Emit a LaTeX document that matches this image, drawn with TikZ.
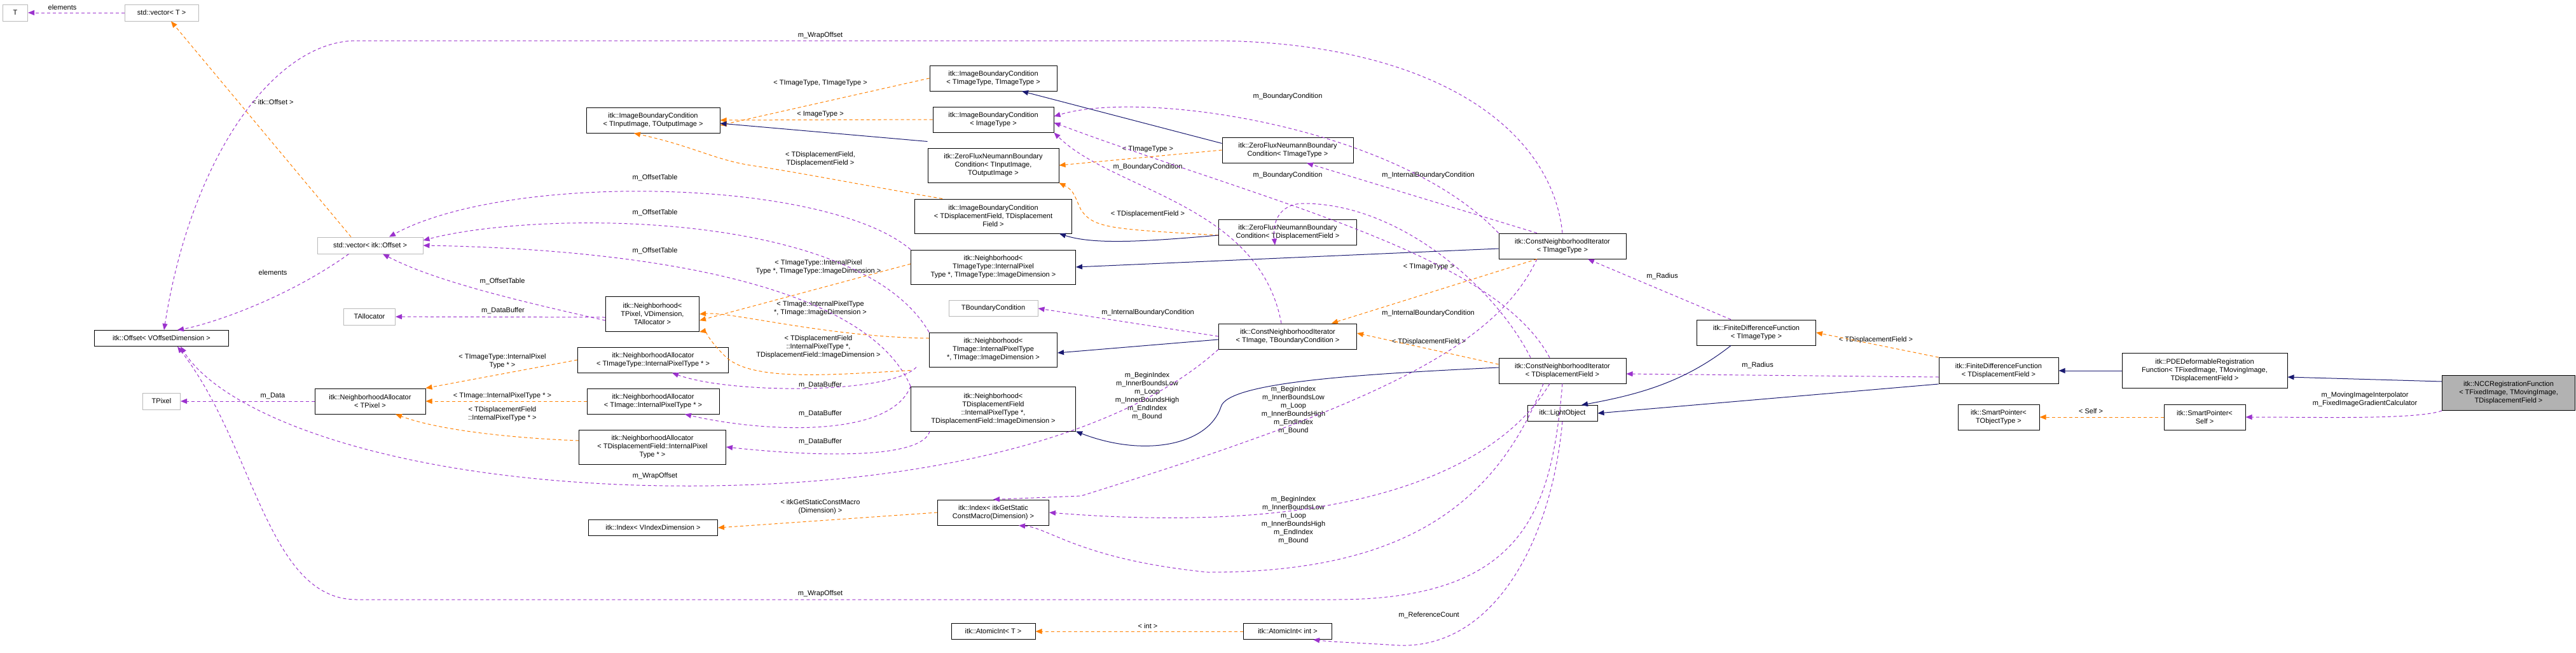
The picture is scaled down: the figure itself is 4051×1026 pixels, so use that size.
\documentclass[tikz,border=0pt]{standalone}
\usepackage{fontspec}
\setmainfont{Liberation Sans}
\usetikzlibrary{arrows.meta}
\begin{document}
\begin{tikzpicture}[x=1pt,y=-1pt,
  font=\fontsize{11}{13}\selectfont,
  box/.style={draw=black,line width=1pt,fill=white,inner sep=1pt,align=center},
  gbox/.style={box,draw=gray!55},
  sel/.style={box,fill=gray!60},
  lab/.style={inner sep=0pt,align=center},
  use/.style={draw={rgb,255:red,155;green,50;blue,205},dashed,line width=1pt,dash pattern=on 5pt off 4pt,-{Triangle[width=8pt,length=10pt]}},
  tmpl/.style={draw=orange,dashed,line width=1pt,dash pattern=on 5pt off 4pt,-{Triangle[width=8pt,length=10pt]}},
  inh/.style={draw={rgb,255:red,25;green,25;blue,112},line width=1pt,-{Triangle[width=8pt,length=10pt]}}]
\useasboundingbox (0,0) rectangle (4051,1026);
% nodes
\node[gbox,minimum width=39,minimum height=26] (T) at (24,20) {T};
\node[gbox,minimum width=116,minimum height=26] (vecT) at (254,20) {std::vector< T >};
\node[gbox,minimum width=166,minimum height=26] (vecOff) at (582,386) {std::vector< itk::Offset >};
\node[gbox,minimum width=81,minimum height=26] (TAlloc) at (581,498) {TAllocator};
\node[box,minimum width=211,minimum height=25] (Off) at (254,532) {itk::Offset< VOffsetDimension >};
\node[gbox,minimum width=59,minimum height=26] (TPixel) at (254,631) {TPixel};
\node[box,minimum width=174,minimum height=40] (NAp) at (582,631) {itk::NeighborhoodAllocator\\< TPixel >};
\node[box,minimum width=210,minimum height=40] (IBCio) at (1027,189) {itk::ImageBoundaryCondition\\< TInputImage, TOutputImage >};
\node[box,minimum width=147,minimum height=55] (Np) at (1026,494) {itk::Neighborhood<\\ TPixel, VDimension,\\ TAllocator >};
\node[box,minimum width=237,minimum height=40] (NAt) at (1027,566) {itk::NeighborhoodAllocator\\< TImageType::InternalPixelType * >};
\node[box,minimum width=208,minimum height=40] (NAi) at (1027,631) {itk::NeighborhoodAllocator\\< TImage::InternalPixelType * >};
\node[box,minimum width=231,minimum height=54] (NAd) at (1026,703) {itk::NeighborhoodAllocator\\< TDisplacementField::InternalPixel\\Type * >};
\node[box,minimum width=203,minimum height=25] (IdxV) at (1027,830) {itk::Index< VIndexDimension >};
\node[box,minimum width=200,minimum height=40] (IBCtt) at (1562,123) {itk::ImageBoundaryCondition\\< TImageType, TImageType >};
\node[box,minimum width=190,minimum height=40] (IBCi) at (1562,188) {itk::ImageBoundaryCondition\\< ImageType >};
\node[box,minimum width=206,minimum height=54] (ZFNio) at (1562,260) {itk::ZeroFluxNeumannBoundary\\Condition< TInputImage,\\ TOutputImage >};
\node[box,minimum width=247,minimum height=54] (IBCdd) at (1562,340) {itk::ImageBoundaryCondition\\< TDisplacementField, TDisplacement\\Field >};
\node[box,minimum width=259,minimum height=54] (Nt) at (1562,420) {itk::Neighborhood<\\ TImageType::InternalPixel\\Type *, TImageType::ImageDimension >};
\node[gbox,minimum width=140,minimum height=25] (TBC) at (1562,485) {TBoundaryCondition};
\node[box,minimum width=201,minimum height=54] (Ni) at (1562,550) {itk::Neighborhood<\\ TImage::InternalPixelType\\ *, TImage::ImageDimension >};
\node[box,minimum width=259,minimum height=70] (Nd) at (1562,643) {itk::Neighborhood<\\ TDisplacementField\\ ::InternalPixelType *,\\ TDisplacementField::ImageDimension >};
\node[box,minimum width=175,minimum height=40] (IdxG) at (1562,806) {itk::Index< itkGetStatic\\ConstMacro(Dimension) >};
\node[box,minimum width=132,minimum height=25] (AtT) at (1562,993) {itk::AtomicInt< T >};
\node[box,minimum width=206,minimum height=40] (ZFNt) at (2025,236) {itk::ZeroFluxNeumannBoundary\\Condition< TImageType >};
\node[box,minimum width=217,minimum height=40] (ZFNd) at (2025,365) {itk::ZeroFluxNeumannBoundary\\Condition< TDisplacementField >};
\node[box,minimum width=217,minimum height=40] (CNIb) at (2025,529) {itk::ConstNeighborhoodIterator\\< TImage, TBoundaryCondition >};
\node[box,minimum width=139,minimum height=25] (AtI) at (2025,993) {itk::AtomicInt< int >};
\node[box,minimum width=200,minimum height=40] (CNIt) at (2457,387) {itk::ConstNeighborhoodIterator\\< TImageType >};
\node[box,minimum width=200,minimum height=40] (CNId) at (2457,583) {itk::ConstNeighborhoodIterator\\< TDisplacementField >};
\node[box,minimum width=110,minimum height=25] (LO) at (2457,650) {itk::LightObject};
\node[box,minimum width=187,minimum height=40] (FDFt) at (2762,523) {itk::FiniteDifferenceFunction\\< TImageType >};
\node[box,minimum width=188,minimum height=41] (FDFd) at (3143,583) {itk::FiniteDifferenceFunction\\< TDisplacementField >};
\node[box,minimum width=128,minimum height=40] (SPo) at (3143,656) {itk::SmartPointer<\\ TObjectType >};
\node[box,minimum width=260,minimum height=55] (PDE) at (3467,583) {itk::PDEDeformableRegistration\\Function< TFixedImage, TMovingImage,\\ TDisplacementField >};
\node[box,minimum width=128,minimum height=40] (SPs) at (3467,656) {itk::SmartPointer<\\ Self >};
\node[sel,minimum width=209,minimum height=55] (NCC) at (3945,618) {itk::NCCRegistrationFunction\\< TFixedImage, TMovingImage,\\ TDisplacementField >};
% labels
\node[lab] (l1) at (98,12) {elements};
\node[lab] (l2) at (429,429) {elements};
\node[lab] (l3) at (429,161) {< itk::Offset >};
\node[lab] (l4) at (1290,56) {m\_WrapOffset};
\node[lab] (l5) at (1030,749) {m\_WrapOffset};
\node[lab] (l6) at (1290,934) {m\_WrapOffset};
\node[lab] (l7) at (790,443) {m\_OffsetTable};
\node[lab] (l8) at (1030,280) {m\_OffsetTable};
\node[lab] (l9) at (1030,335) {m\_OffsetTable};
\node[lab] (l10) at (1030,395) {m\_OffsetTable};
\node[lab] (l11) at (791,489) {m\_DataBuffer};
\node[lab] (l12) at (429,623) {m\_Data};
\node[lab] (l13) at (790,568) {< TImageType::InternalPixel\\Type * >};
\node[lab] (l14) at (790,623) {< TImage::InternalPixelType * >};
\node[lab] (l15) at (790,651) {< TDisplacementField\\::InternalPixelType * >};
\node[lab] (l16) at (1290,131) {< TImageType, TImageType >};
\node[lab] (l17) at (1290,180) {< ImageType >};
\node[lab] (l18) at (1290,250) {< TDisplacementField,\\TDisplacementField >};
\node[lab] (l19) at (1287,420) {< TImageType::InternalPixel\\Type *, TImageType::ImageDimension >};
\node[lab] (l20) at (1290,485) {< TImage::InternalPixelType\\*, TImage::ImageDimension >};
\node[lab] (l21) at (1287,546) {< TDisplacementField\\::InternalPixelType *,\\TDisplacementField::ImageDimension >};
\node[lab] (l22) at (1290,606) {m\_DataBuffer};
\node[lab] (l23) at (1290,651) {m\_DataBuffer};
\node[lab] (l24) at (1290,695) {m\_DataBuffer};
\node[lab] (l25) at (1290,797) {< itkGetStaticConstMacro\\(Dimension) >};
\node[lab] (l26) at (1805,985) {< int >};
\node[lab] (l27) at (1805,235) {< TImageType >};
\node[lab] (l28) at (1805,263) {m\_BoundaryCondition};
\node[lab] (l29) at (2025,152) {m\_BoundaryCondition};
\node[lab] (l30) at (2025,276) {m\_BoundaryCondition};
\node[lab] (l31) at (1805,337) {< TDisplacementField >};
\node[lab] (l32) at (1805,492) {m\_InternalBoundaryCondition};
\node[lab] (l33) at (2246,276) {m\_InternalBoundaryCondition};
\node[lab] (l34) at (2246,493) {m\_InternalBoundaryCondition};
\node[lab] (l35) at (2247,420) {< TImageType >};
\node[lab] (l36) at (2247,538) {< TDisplacementField >};
\node[lab] (l37) at (2614,435) {m\_Radius};
\node[lab] (l38) at (2764,575) {m\_Radius};
\node[lab] (l39) at (2950,535) {< TDisplacementField >};
\node[lab] (l40) at (1804,623) {m\_BeginIndex\\m\_InnerBoundsLow\\m\_Loop\\m\_InnerBoundsHigh\\m\_EndIndex\\m\_Bound};
\node[lab] (l41) at (2034,645) {m\_BeginIndex\\m\_InnerBoundsLow\\m\_Loop\\m\_InnerBoundsHigh\\m\_EndIndex\\m\_Bound};
\node[lab] (l42) at (2034,818) {m\_BeginIndex\\m\_InnerBoundsLow\\m\_Loop\\m\_InnerBoundsHigh\\m\_EndIndex\\m\_Bound};
\node[lab] (l43) at (2247,968) {m\_ReferenceCount};
\node[lab] (l44) at (3288,647) {< Self >};
\node[lab] (l45) at (3719,628) {m\_MovingImageInterpolator\\m\_FixedImageGradientCalculator};
% usage edges
\draw[use] (vecT) -- (T);
\draw[use] (vecOff.south west) ++(50,0) .. controls (450,470) and (330,510) .. ([xshift=25]Off.north);
\draw[use] (CNIt.north) .. controls (2440,200) and (2250,64) .. (1900,64) -- (561,64) .. controls (430,64) and (300,250) .. ([xshift=4]Off.north);
\draw[use] (CNId.south) .. controls (2440,800) and (2400,943) .. (2100,943) -- (561,943) .. controls (420,943) and (400,700) .. ([xshift=25]Off.south);
\draw[use] (CNIb.south west) .. controls (1750,700) and (1400,775) .. (1000,763) .. controls (600,750) and (350,650) .. ([xshift=30]Off.south);
\draw[use] ([yshift=-10]Np.west) .. controls (800,470) and (680,440) .. ([xshift=20]vecOff.south);
\draw[use] (Nt.north west) .. controls (1300,280) and (800,270) .. ([xshift=30]vecOff.north);
\draw[use] (Ni.north west) .. controls (1350,330) and (850,330) .. ([yshift=8]vecOff.east);
\draw[use] (Nd.north west) .. controls (1350,420) and (900,390) .. (vecOff.east);
\draw[use] ([yshift=-5]Np.west) -- (TAlloc);
\draw[use] (NAp) -- (TPixel);
\draw[use] ([xshift=-20]Ni.south west) .. controls (1400,620) and (1150,620) .. ([xshift=30]NAt.south);
\draw[use] (Nd.north west) .. controls (1400,690) and (1200,680) .. ([xshift=50]NAi.south);
\draw[use] ([xshift=30]Nd.south west) .. controls (1450,720) and (1300,720) .. (NAd.east);
\draw[use] (CNIt.north west) .. controls (2200,200) and (1800,140) .. ([yshift=5]IBCi.east);
\draw[use] ([xshift=-20]CNId.north) .. controls (2350,400) and (2000,320) .. ([yshift=-5]IBCi.east);
\draw[use] ([xshift=-10]CNIb.north) .. controls (1980,320) and (1750,300) .. (IBCi.south east);
\draw[use] ([xshift=-40]CNIt.north) -- ([xshift=30]ZFNt.south);
\draw[use] ([xshift=-50]CNId.north) .. controls (2350,450) and (2200,320) .. (2050,320) .. controls (2020,320) and (2000,340) .. ([xshift=-20]ZFNd.south);
\draw[use] (CNIb.west) -- (TBC.east);
\draw[use] ([xshift=-40]CNIt.south) .. controls (2350,550) and (2150,640) .. (1700,780) -- (IdxG.north);
\draw[use] ([xshift=-20]CNId.south) .. controls (2380,700) and (2200,850) .. (IdxG.east);
\draw[use] ([xshift=-30]CNId.south) .. controls (2350,800) and (2200,900) .. (1900,900) .. controls (1700,880) and (1650,830) .. ([xshift=40]IdxG.south);
\draw[use] ([xshift=-40]FDFt.north) -- ([xshift=40]CNIt.south);
\draw[use] ([yshift=-10]FDFd.west) -- ([yshift=-5]CNId.east);
\draw[use] (LO.south) .. controls (2440,850) and (2350,1020) .. (2200,1015) .. controls (2120,1010) and (2100,1010) .. ([xshift=40]AtI.south);
\draw[use] (NCC.south west) .. controls (3800,660) and (3650,656) .. (SPs.east);
% template edges
\draw[tmpl] ([xshift=-30]vecOff.north) -- ([xshift=15]vecT.south);
\draw[tmpl] (IBCtt.west) -- ([yshift=-8]IBCio.east);
\draw[tmpl] (IBCi.west) -- (IBCio.east);
\draw[tmpl] ([xshift=-80]IBCdd.north) .. controls (1350,290) and (1250,270) .. (1180,260) .. controls (1120,250) and (1090,230) .. ([xshift=-30]IBCio.south);
\draw[tmpl] ([yshift=5]Nt.west) -- ([yshift=-10]Np.east);
\draw[tmpl] ([yshift=18]Ni.west) .. controls (1300,530) and (1150,490) .. (Np.east);
\draw[tmpl] ([yshift=25]Nd.north west) .. controls (1300,590) and (1180,600) .. (1140,560) .. controls (1110,530) and (1110,520) .. (Np.south east);
\draw[tmpl] (NAt.west) -- (NAp.north east);
\draw[tmpl] (NAi.west) -- (NAp.east);
\draw[tmpl] ([yshift=10]NAd.west) .. controls (830,690) and (700,680) .. ([xshift=40]NAp.south);
\draw[tmpl] (ZFNt.west) -- (ZFNio.east);
\draw[tmpl] ([yshift=-5]ZFNd.west) .. controls (1750,360) and (1720,360) .. (1700,330) .. controls (1690,310) and (1690,300) .. (ZFNio.south east);
\draw[tmpl] ([xshift=-40]CNIt.south) -- ([xshift=-40]CNIb.north east);
\draw[tmpl] ([yshift=10]CNId.west) -- ([yshift=5]CNIb.east);
\draw[tmpl] (IdxG.west) -- (IdxV.east);
\draw[tmpl] (AtI) -- (AtT);
\draw[tmpl] (FDFd.north west) -- (FDFt.east);
\draw[tmpl] (SPs) -- (SPo);
% inheritance edges
\draw[inh] ([yshift=-10]ZFNt.north west) -- ([xshift=45]IBCtt.south);
\draw[inh] ([yshift=10]ZFNio.north west) -- ([yshift=-5]IBCio.east);
\draw[inh] ([yshift=-5]ZFNd.west) .. controls (1800,380) and (1720,385) .. ([xshift=-20]IBCdd.south east);
\draw[inh] ([yshift=-4]CNIt.west) -- (Nt.east);
\draw[inh] ([yshift=-5]CNIb.west) -- ([yshift=-5]Ni.east);
\draw[inh] ([yshift=5]CNId.west) .. controls (2150,588) and (1930,600) .. (1920,640) .. controls (1900,700) and (1800,720) .. (Nd.south east);
\draw[inh] ([xshift=-40]FDFt.south) .. controls (2650,600) and (2580,620) .. ([xshift=30]LO.north);
\draw[inh] (FDFd.south west) -- (LO.east);
\draw[inh] (PDE.west) -- (FDFd.east);
\draw[inh] ([yshift=-10]NCC.north west) -- ([yshift=-10]PDE.east);
\end{tikzpicture}
\end{document}
